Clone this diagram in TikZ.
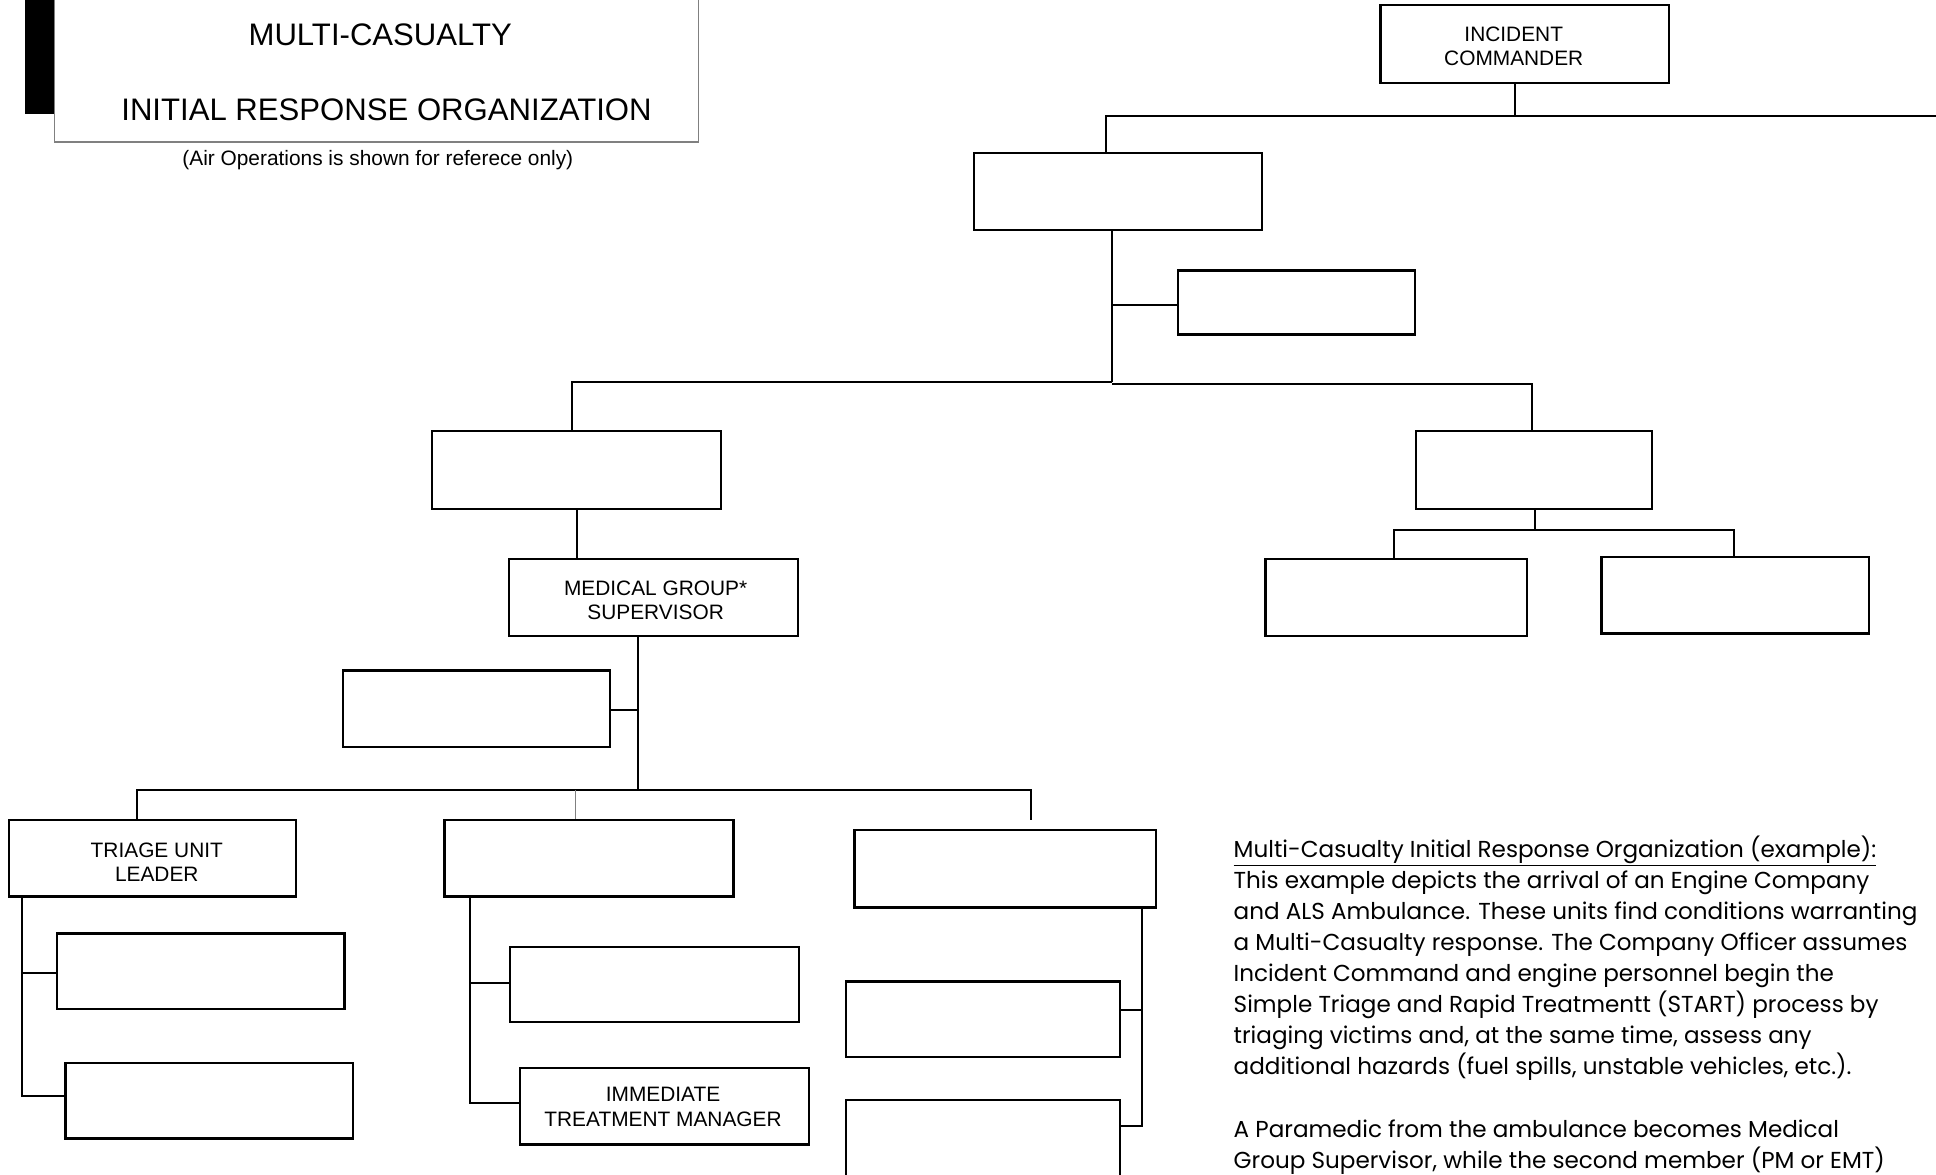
\documentclass[tikz,border=0pt]{standalone}
\usepackage{fontspec}
\setmainfont{Liberation Sans}
\newfontfamily\parafont{Poppins}
\begin{document}
\begin{tikzpicture}[x=1pt,y=-1pt,
  box/.style={draw, line width=1.8pt, inner sep=0pt, fill=white},
  conn/.style={line width=1.6pt},
  lbl/.style={inner sep=0pt, align=center, font=\fontsize{16.9}{19.5}\selectfont},
  para/.style={anchor=base west, inner sep=0pt, font=\parafont\fontsize{18.7}{25}\selectfont}]
\useasboundingbox (0,0) rectangle (1568,951);

% title block
\fill (20,0) rectangle (44,92);
\node[draw=gray, line width=0.9pt, fill=white, inner sep=0pt, minimum width=522, minimum height=140] (title) at (305,45) {};
\node[inner sep=0pt, font=\fontsize{25.2}{28}\selectfont] (t1) at (308,28) {MULTI-CASUALTY};
\node[inner sep=0pt, font=\fontsize{25.2}{28}\selectfont] (t2) at (313,89) {INITIAL RESPONSE ORGANIZATION};
\node[inner sep=0pt, font=\fontsize{16.9}{19}\selectfont] (t3) at (306,129.5) {(Air Operations is shown for referece only)};

% command and sections
\node[box, minimum width=234, minimum height=63] (ic) at (1235,35.5) {};
\node[lbl] (icText) at (1226,37.5) {INCIDENT\\COMMANDER};
\node[box, minimum width=233, minimum height=62] (ops) at (905.5,155) {};
\node[box, minimum width=192, minimum height=52] (air) at (1050,245) {};
\node[box, minimum width=234, minimum height=63] (branch) at (467,380.5) {};
\node[box, minimum width=191, minimum height=63] (stg) at (1242.5,380.5) {};
\node[box, minimum width=212, minimum height=62] (stgA) at (1131,484) {};
\node[box, minimum width=217, minimum height=62] (stgB) at (1405.5,482) {};

% medical group
\node[box, minimum width=234, minimum height=62] (mgs) at (529,484) {};
\node[lbl] (mgsText) at (531,486) {MEDICAL GROUP*\\SUPERVISOR};
\node[box, minimum width=216, minimum height=62] (mcom) at (386,574) {};

% units
\node[box, minimum width=233, minimum height=62] (triage) at (123.5,695) {};
\node[lbl] (triText) at (127,698) {TRIAGE UNIT\\LEADER};
\node[box, minimum width=233, minimum height=61] (triA) at (162.5,786.5) {};
\node[box, minimum width=233, minimum height=61] (triB) at (169.5,891.5) {};

\node[box, minimum width=234, minimum height=62] (treat) at (477,695) {};
\node[box, minimum width=234, minimum height=61] (trA) at (530,797.5) {};
\node[box, minimum width=234, minimum height=62] (imm) at (538,896) {};
\node[lbl] (immText) at (537,896.5) {IMMEDIATE\\TREATMENT MANAGER};

\node[box, minimum width=244, minimum height=63] (trans) at (814,703.5) {};
\node[box, minimum width=222, minimum height=61] (tpA) at (796,825.5) {};
\node[box, minimum width=222, minimum height=110] (tpB) at (796,946) {};

% junction points
\coordinate (jTop) at (1227,94);
\coordinate (topEnd) at (1568,94);
\coordinate (jOps) at (896,94);
\coordinate (jSec) at (901,309);
\coordinate (jSecR) at (901,311);
\coordinate (jBr) at (463,309);
\coordinate (jStg) at (1241,311);
\coordinate (jAir) at (901,247);
\coordinate (jStgDn) at (1243,429);
\coordinate (jStgA) at (1129,429);
\coordinate (jStgB) at (1404,429);
\coordinate (jMed) at (517,640);
\coordinate (jMcom) at (517,575);
\coordinate (jTri) at (111,640);
\coordinate (jTreat) at (466,640);
\coordinate (jTrans) at (835,640);
\coordinate (transStub) at (835,664);
\coordinate (jTriA) at (18,788);
\coordinate (jTriB) at (18,888);
\coordinate (jTrA) at (381,796);
\coordinate (jTrB) at (381,893);
\coordinate (jTpA) at (925,818);
\coordinate (jTpB) at (925,912);

% connectors
\draw[conn] (jTop |- ic.south) -- (jTop);
\draw[conn] (topEnd) -- (jOps) -- (jOps |- ops.north);
\draw[conn] (jSec |- ops.south) -- (jSec);
\draw[conn] (jAir) -- (jAir -| air.west);
\draw[conn] (jSec) -- (jBr) -- (jBr |- branch.north);
\draw[conn] (jSecR) -- (jStg) -- (jStg |- stg.north);
\draw[conn] (jStgDn |- stg.south) -- (jStgDn);
\draw[conn] (jStgA |- stgA.north) -- (jStgA) -- (jStgB) -- (jStgB |- stgB.north);
\draw[conn] (branch.south) -- (branch.south |- mgs.north);
\draw[conn] (jMed |- mgs.south) -- (jMed);
\draw[conn] (jMcom) -- (jMcom -| mcom.east);
\draw[conn] (jTri |- triage.north) -- (jTri) -- (jTrans) -- (transStub);
\draw[gray, line width=0.7pt] (jTreat) -- (jTreat |- treat.north);
\draw[conn] (jTriA |- triage.south) -- (jTriB) -- (jTriB -| triB.west);
\draw[conn] (jTriA) -- (jTriA -| triA.west);
\draw[conn] (jTrA |- treat.south) -- (jTrB) -- (jTrB -| imm.west);
\draw[conn] (jTrA) -- (jTrA -| trA.west);
\draw[conn] (jTpA |- trans.south) -- (jTpB) -- (jTpB -| tpB.east);
\draw[conn] (jTpA) -- (jTpA -| tpA.east);

% explanatory text
\node[para] (p1) at (999,694.5) {\underline{Multi-Casualty Initial Response Organization (example):}};
\node[para] (p2) at (999,719.5) {This example depicts the arrival of an Engine Company};
\node[para] (p3) at (999,744.5) {and ALS Ambulance. These units find conditions warranting};
\node[para] (p4) at (999,770) {a Multi-Casualty response. The Company Officer assumes};
\node[para] (p5) at (999,795) {Incident Command and engine personnel begin the};
\node[para] (p6) at (999,820) {Simple Triage and Rapid Treatmentt (START) process by};
\node[para] (p7) at (999,845) {triaging victims and, at the same time, assess any};
\node[para] (p8) at (999,870) {additional hazards (fuel spills, unstable vehicles, etc.).};
\node[para] (p9) at (999,921) {A Paramedic from the ambulance becomes Medical};
\node[para] (p10) at (999,946) {Group Supervisor, while the second member (PM or EMT)};
\end{tikzpicture}
\end{document}
